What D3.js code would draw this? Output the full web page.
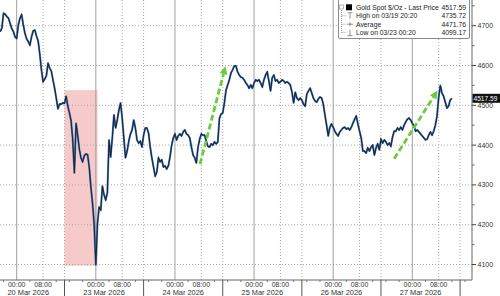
<!DOCTYPE html>
<html>
<head>
<meta charset="utf-8">
<script src="https://cdn.jsdelivr.net/npm/d3@7/dist/d3.min.js"></script>
<style>
  body { margin: 0; background: #fff; }
  svg { display: block; font-family: "Liberation Sans", Arial, sans-serif; }
</style>
</head>
<body>
<script>
// trading days shown on the axis (weekend is skipped)
var days = ['19 Mar 2026', '20 Mar 2026', '23 Mar 2026', '24 Mar 2026',
            '25 Mar 2026', '26 Mar 2026', '27 Mar 2026'];
var firstBar = ['19 Mar 2026', '19:00'];
var barMinutes = 30;
var timeLabels = ['00:00', '08:00'];
var sessionBreak = '14:30';

// Gold spot $/oz, 30 minute bars
var prices = [
  4685, 4694, 4731, 4729, 4723, 4719, 4706, 4693, 4685, 4672,
  4668, 4702, 4719, 4728, 4702, 4681, 4667, 4660, 4651, 4672,
  4687, 4689, 4674, 4662, 4629, 4589, 4559, 4566, 4574, 4606,
  4594, 4586, 4564, 4543, 4518, 4491, 4503, 4503, 4506, 4505,
  4523, 4498, 4481, 4461, 4413, 4330, 4455, 4425, 4390, 4368,
  4358, 4373, 4378, 4376, 4345, 4295, 4254, 4200, 4099, 4203,
  4244, 4237, 4297, 4275, 4262, 4280, 4413, 4370, 4418, 4476,
  4443, 4463, 4488, 4506, 4468, 4418, 4368, 4385, 4410, 4428,
  4438, 4463, 4443, 4413, 4405, 4410, 4395, 4425, 4443, 4443,
  4430, 4395, 4368, 4345, 4322, 4332, 4368, 4358, 4363, 4345,
  4348, 4340, 4348, 4370, 4400, 4418, 4428, 4413, 4423, 4428,
  4423, 4433, 4438, 4428, 4425, 4418, 4395, 4375, 4368, 4355,
  4395, 4415, 4428, 4425, 4425, 4410, 4397, 4395, 4403, 4400,
  4408, 4403, 4408, 4468, 4478, 4481, 4506, 4538, 4551, 4564,
  4581, 4589, 4599, 4599, 4584, 4576, 4571, 4569, 4564, 4556,
  4551, 4543, 4551, 4543, 4556, 4564, 4561, 4564, 4556, 4546,
  4564, 4576, 4584, 4561, 4536, 4569, 4576, 4561, 4564, 4556,
  4559, 4564, 4561, 4556, 4559, 4556, 4551, 4533, 4506, 4533,
  4518, 4513, 4518, 4513, 4503, 4498, 4528, 4536, 4543, 4531,
  4518, 4511, 4508, 4516, 4521, 4518, 4503, 4476, 4450, 4423,
  4445, 4453, 4445, 4435, 4428, 4423, 4433, 4438, 4443, 4445,
  4440, 4443, 4438, 4445, 4455, 4465, 4473, 4453, 4435, 4418,
  4385, 4385, 4380, 4393, 4385, 4395, 4400, 4375, 4393, 4403,
  4388, 4415, 4405, 4413, 4408, 4400, 4405, 4397, 4420, 4435,
  4435, 4443, 4438, 4445, 4438, 4450, 4458, 4465, 4468, 4463,
  4455, 4448, 4435, 4438, 4433, 4428, 4423, 4418, 4413, 4415,
  4425, 4433, 4425, 4435, 4450, 4473, 4520, 4550, 4531, 4523,
  4508, 4493, 4498, 4513, 4517.59
];

var priceTicks = [4100, 4200, 4300, 4400, 4500, 4600, 4700];

var legendNames = ['Gold Spot $/Oz - Last Price', 'High on 03/19 20:20', 'Average', 'Low on 03/23 00:20'];
var legendValues = ['4517.59', '4735.72', '4471.76', '4099.17'];
var lastPrice = 4517.59;

// highlighted weekend gap and the two rally arrows
var shadeFrom = ['20 Mar 2026', '14:30'];
var shadeTo = ['23 Mar 2026', '00:30'];
var shadePrices = [4538, 4097];
var arrowStarts = [['24 Mar 2026', '07:36', 4352], ['26 Mar 2026', '18:30', 4366]];
var arrowEnds = [['24 Mar 2026', '15:20', 4598], ['27 Mar 2026', '07:40', 4537]];

function sessionHours(day, hhmm) {
  var p = hhmm.split(':');
  return days.indexOf(day) * 24 + (+p[0]) + (+p[1]) / 60;
}

var width = 500, height = 296;
var plotRight = 472, plotBottom = 280;

var svg = d3.select('body').append('svg')
    .attr('width', width)
    .attr('height', height);

var x = d3.scaleLinear().domain([24, 144]).range([16.7, 412.3]);
var y = d3.scaleLinear().domain([4100, 4700]).range([264.5, 25.7]);

var t0 = sessionHours(firstBar[0], firstBar[1]);
var barH = barMinutes / 60;

// shaded box
svg.append('rect')
    .attr('x', x(sessionHours(shadeFrom[0], shadeFrom[1])))
    .attr('y', y(shadePrices[0]))
    .attr('width', x(sessionHours(shadeTo[0], shadeTo[1])) - x(sessionHours(shadeFrom[0], shadeFrom[1])))
    .attr('height', y(shadePrices[1]) - y(shadePrices[0]))
    .attr('fill', '#e88a88')
    .attr('fill-opacity', 0.45);

// horizontal grid
svg.append('g').selectAll('line')
    .data(priceTicks)
    .enter().append('line')
    .attr('x1', 0).attr('x2', plotRight)
    .attr('y1', function (d) { return y(d); })
    .attr('y2', function (d) { return y(d); })
    .attr('stroke', '#a8a8a8')
    .attr('stroke-dasharray', '1,2');

// vertical grid
var grid = svg.append('g');
days.forEach(function (day, i) {
  var xs = [
    {x: x(sessionHours(day, '00:00')), solid: true},
    {x: x(sessionHours(day, '08:00')), solid: false},
    {x: x(sessionHours(day, sessionBreak)), solid: false}
  ];
  xs.forEach(function (g) {
    if (g.x < 0 || g.x > plotRight) return;
    grid.append('line')
        .attr('x1', g.x).attr('x2', g.x)
        .attr('y1', 0).attr('y2', plotBottom)
        .attr('stroke', g.solid ? '#a0a0a0' : '#a8a8a8')
        .attr('stroke-dasharray', g.solid ? null : '1,2');
  });
});

// price line
var line = d3.line()
    .x(function (d, i) { return x(t0 + i * barH); })
    .y(function (d) { return y(d); });

svg.append('path')
    .datum(prices)
    .attr('fill', 'none')
    .attr('stroke', '#4a7dc0')
    .attr('stroke-width', 2)
    .attr('stroke-linejoin', 'round')
    .attr('d', line);

svg.append('path')
    .datum(prices)
    .attr('fill', 'none')
    .attr('stroke', '#10161f')
    .attr('stroke-width', 1.1)
    .attr('stroke-opacity', 0.85)
    .attr('d', line);

// green arrows
arrowStarts.forEach(function (s, i) {
  var e = arrowEnds[i];
  var x1 = x(sessionHours(s[0], s[1])), y1 = y(s[2]);
  var x2 = x(sessionHours(e[0], e[1])), y2 = y(e[2]);
  var len = Math.sqrt((x2 - x1) * (x2 - x1) + (y2 - y1) * (y2 - y1));
  var ux = (x2 - x1) / len, uy = (y2 - y1) / len;
  var head = 8, half = 4;
  var bx = x2 - ux * head, by = y2 - uy * head;
  svg.append('line')
      .attr('x1', x1).attr('y1', y1)
      .attr('x2', bx).attr('y2', by)
      .attr('stroke', '#6acb3e')
      .attr('stroke-width', 2.8)
      .attr('stroke-dasharray', '6,3');
  svg.append('polygon')
      .attr('points', [[x2, y2], [bx - uy * half, by + ux * half], [bx + uy * half, by - ux * half]].join(' '))
      .attr('fill', '#6acb3e');
});

// right axis
var axisG = svg.append('g').attr('font-size', 7).attr('fill', '#333');
axisG.append('line')
    .attr('x1', plotRight).attr('x2', plotRight)
    .attr('y1', 0).attr('y2', plotBottom)
    .attr('stroke', '#666');
priceTicks.forEach(function (v) {
  axisG.append('line')
      .attr('x1', plotRight).attr('x2', plotRight + 4)
      .attr('y1', y(v)).attr('y2', y(v))
      .attr('stroke', '#444');
  axisG.append('line')
      .attr('x1', plotRight).attr('x2', plotRight + 2.5)
      .attr('y1', y(v + 50)).attr('y2', y(v + 50))
      .attr('stroke', '#666');
  axisG.append('text')
      .attr('x', plotRight + 5.5)
      .attr('y', y(v) + 2.5)
      .text(v);
});

// last price tag
svg.append('rect')
    .attr('x', plotRight + 0.5).attr('y', y(lastPrice) - 4.5)
    .attr('width', 30).attr('height', 9)
    .attr('fill', '#111');
svg.append('text')
    .attr('x', plotRight + 1.5).attr('y', y(lastPrice) + 2.5)
    .attr('font-size', 6.6)
    .attr('fill', '#fff')
    .text(lastPrice.toFixed(2));

// bottom axis
var bottom = svg.append('g').attr('fill', '#333');
bottom.append('line')
    .attr('x1', 0).attr('x2', plotRight)
    .attr('y1', plotBottom).attr('y2', plotBottom)
    .attr('stroke', '#666');

days.forEach(function (day, i) {
  timeLabels.forEach(function (t) {
    var tx = x(sessionHours(day, t));
    if (tx < 0 || tx > plotRight) return;
    bottom.append('text')
        .attr('x', tx).attr('y', plotBottom + 7)
        .attr('text-anchor', 'middle')
        .attr('font-size', 7)
        .text(t);
  });
  [4, 12, 16, 20].forEach(function (h) {
    var tx = x(i * 24 + h);
    if (tx < 0 || tx > plotRight) return;
    bottom.append('line')
        .attr('x1', tx).attr('x2', tx)
        .attr('y1', plotBottom).attr('y2', plotBottom + 2)
        .attr('stroke', '#777');
  });
  var sep = x(sessionHours(day, sessionBreak));
  if (sep > 0 && sep < plotRight) {
    bottom.append('line')
        .attr('x1', sep).attr('x2', sep)
        .attr('y1', plotBottom).attr('y2', height)
        .attr('stroke', '#555');
  }
  if (i === 0) return;
  // the date sits between the two session breaks around it
  var left = Math.max(-8, x(sessionHours(days[i - 1], sessionBreak)));
  var right = Math.min(plotRight, sep);
  bottom.append('text')
      .attr('x', (left + right) / 2).attr('y', plotBottom + 15)
      .attr('text-anchor', 'middle')
      .attr('font-size', 7.4)
      .text(day);
});

// legend
var lg = svg.append('g');
lg.append('rect')
    .attr('x', 338.5).attr('y', -1.5)
    .attr('width', 131).attr('height', 40)
    .attr('rx', 1.5)
    .attr('fill', '#fff')
    .attr('stroke', '#8a8a8a');

var rowY = function (i) { return 9.8 + i * 8.45; };

lg.append('line')
    .attr('x1', 341.5).attr('x2', 341.5)
    .attr('y1', 10).attr('y2', rowY(3) - 2.5)
    .attr('stroke', '#999')
    .attr('stroke-dasharray', '1,1');
lg.append('rect')
    .attr('x', 339.5).attr('y', 5).attr('width', 4).attr('height', 4)
    .attr('fill', '#fff').attr('stroke', '#999').attr('stroke-width', 0.7);
lg.append('rect')
    .attr('x', 346).attr('y', 4.3).attr('width', 6).attr('height', 6)
    .attr('fill', '#000');

legendNames.forEach(function (name, i) {
  var cy = rowY(i) - 2.5;
  if (i > 0) {
    lg.append('line')
        .attr('x1', 341.5).attr('x2', 346)
        .attr('y1', cy).attr('y2', cy)
        .attr('stroke', '#999').attr('stroke-dasharray', '1,1');
    var ic = lg.append('g').attr('stroke', '#777').attr('stroke-width', 0.8);
    if (i === 1) {
      ic.append('line').attr('x1', 347.5).attr('x2', 352.5).attr('y1', cy - 3).attr('y2', cy - 3);
      ic.append('line').attr('x1', 350).attr('x2', 350).attr('y1', cy - 3).attr('y2', cy + 3);
    } else if (i === 2) {
      ic.append('line').attr('x1', 347).attr('x2', 353).attr('y1', cy).attr('y2', cy);
      ic.append('line').attr('x1', 350).attr('x2', 350).attr('y1', cy - 2).attr('y2', cy + 2);
    } else {
      ic.append('line').attr('x1', 347.5).attr('x2', 352.5).attr('y1', cy + 3).attr('y2', cy + 3);
      ic.append('line').attr('x1', 350).attr('x2', 350).attr('y1', cy - 3).attr('y2', cy + 3);
    }
  }
  lg.append('text')
      .attr('x', 356).attr('y', rowY(i))
      .attr('font-size', 6.8)
      .attr('fill', '#222')
      .text(name);
  lg.append('text')
      .attr('x', 466).attr('y', rowY(i))
      .attr('text-anchor', 'end')
      .attr('font-size', 6.8)
      .attr('fill', '#222')
      .text(legendValues[i]);
});
</script>
</body>
</html>
